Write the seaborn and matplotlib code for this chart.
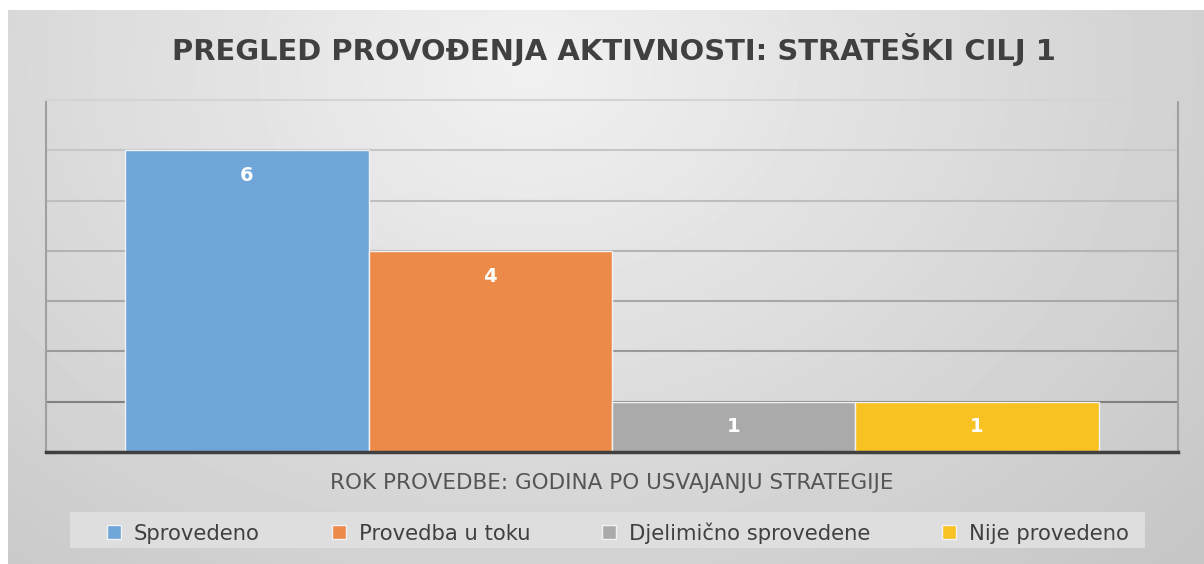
import numpy as np
import pandas as pd
import matplotlib
matplotlib.use("Agg")
import matplotlib.pyplot as plt
import seaborn as sns
from matplotlib.patches import Rectangle

title = "PREGLED PROVOĐENJA AKTIVNOSTI: STRATEŠKI CILJ 1"
category = "ROK PROVEDBE: GODINA PO USVAJANJU STRATEGIJE"
series = ["Sprovedeno", "Provedba u toku", "Djelimično sprovedene", "Nije provedeno"]
values = [6, 4, 1, 1]
colors = ["#6fa5d8", "#ec8a4a", "#aaaaaa", "#f8c322"]

df = pd.DataFrame({"cat": [category] * len(series), "series": series, "value": values})

sns.set_theme(style="white")
plt.rcParams["font.family"] = ["DejaVu Sans"]

W, H = 1204, 564
fig = plt.figure(figsize=(W / 100, H / 100), dpi=100, facecolor="white")
renderer = fig.canvas.get_renderer()


def fit(txt, target_px):
    w = txt.get_window_extent(renderer).width
    txt.set_fontsize(txt.get_fontsize() * target_px / w)


# gradient background
bg = fig.add_axes([8 / W, 0, 1 - 8 / W, (H - 10) / H], zorder=-10)
yy, xx = np.mgrid[0:554, 0:1196]
cx, cy = 520, 60
d = np.sqrt(((xx - cx) / 1.3) ** 2 + (yy - cy) ** 2)
d = np.clip(d / 700, 0, 1)
img = 0.945 - 0.17 * d
bg.imshow(img, cmap="gray", vmin=0, vmax=1, aspect="auto", extent=[0, 1, 0, 1], origin="upper")
bg.set_axis_off()

ax = fig.add_axes([46 / W, 1 - 452 / H, (1178 - 46) / W, (452 - 100) / H])
ax.set_facecolor("none")

sns.barplot(data=df, x="cat", y="value", hue="series", hue_order=series,
            palette=colors, width=0.86, ax=ax, legend=False,
            edgecolor="#f2f2f2", linewidth=1.0, saturation=1)

ax.set_ylim(0, 7)
ax.set_yticks(range(0, 8))
ax.set_yticklabels([])
ax.tick_params(axis="both", length=0)
ax.set_xlabel("")
ax.set_ylabel("")
ax.set_xlim(-0.5, 0.5)
ax.tick_params(axis="x", labelsize=15.5, labelcolor="#555555", pad=15)
ax.grid(axis="y", linewidth=1.5)
grid_cols = ["#444444", "#808080", "#9a9a9a", "#a8a8a8", "#b4b4b4", "#bebebe", "#c6c6c6", "#d4d4d4"]
for gl, c in zip(ax.get_ygridlines(), grid_cols):
    gl.set_color(c)
ax.set_axisbelow(True)

for side in ["left", "right"]:
    ax.spines[side].set_visible(True)
    ax.spines[side].set_color("#a0a0a0")
    ax.spines[side].set_linewidth(1.5)
ax.spines["top"].set_color("#d4d4d4")
ax.spines["top"].set_linewidth(1.5)
ax.spines["bottom"].set_color("#404040")
ax.spines["bottom"].set_linewidth(2.5)

for cont in ax.containers:
    ax.bar_label(cont, label_type="edge", padding=-25, color="white",
                 fontsize=14, fontweight="bold")

t = fig.text(614 / W, 1 - 50 / H, title, ha="center", va="center", fontsize=20,
             fontweight="bold", color="#404040")
fit(t, 880)

# legend background
fig.patches.append(Rectangle((70 / W, 1 - 548 / H), (1145 - 70) / W, 36 / H,
                             transform=fig.transFigure, facecolor="#dedede",
                             edgecolor="none", zorder=-5))
fs = 15.2
fs_px = fs * 100 / 72
text_sum = 0
for s in series:
    p = fig.text(0, 0, s, fontsize=fs)
    text_sum += p.get_window_extent(renderer).width
    p.remove()
gap = (1022 - 4 * 27 - text_sum) / 3
handles = [Rectangle((0, 0), 1, 1, facecolor=c, edgecolor="#f2f2f2") for c in colors]
leg = fig.legend(handles, series, loc="center", bbox_to_anchor=(618 / W, 1 - 533 / H),
                 ncol=4, frameon=False, fontsize=fs, handlelength=14 / fs_px,
                 handleheight=14 / fs_px, handletextpad=13 / fs_px,
                 columnspacing=gap / fs_px, labelcolor="#404040", borderpad=0)

fig.savefig("out.png", dpi=100, facecolor="white")
